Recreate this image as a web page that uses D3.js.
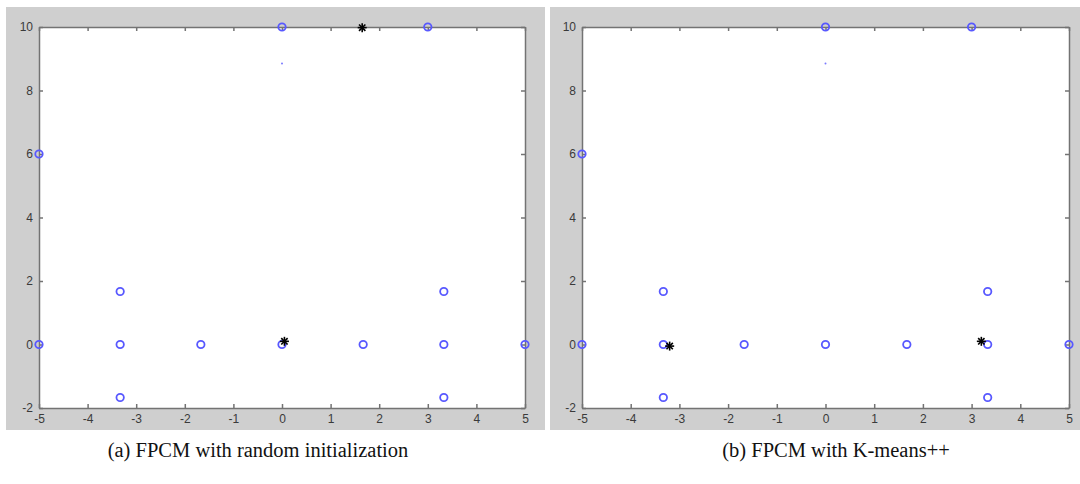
<!DOCTYPE html>
<html>
<head>
<meta charset="utf-8">
<script src="https://cdn.jsdelivr.net/npm/d3@7"></script>
<style>
  body { margin: 0; background: #fff; }
  svg { display: block; }
  .tick text { font-family: "Liberation Sans", Arial, sans-serif; font-size: 12px; fill: #3a3a3a; }
  .caption { font-family: "Liberation Serif", "Times New Roman", serif; font-size: 20.5px; fill: #111; }
</style>
</head>
<body>
<div id="chart"></div>
<script>
// data points (same in both runs)
var pointX = [-5, -5, -3.33, -3.33, -3.33, -1.67, 0, 1.67, 3.33, 3.33, 3.33, 5, 0, 3];
var pointY = [0, 6, 1.67, 0, -1.67, 0, 0, 0, 1.67, 0, -1.67, 0, 10, 10];
// small dot marker
var dotX = [0];
var dotY = [8.85];
// cluster centres found by each method
var centerAX = [1.65, 0.05];
var centerAY = [9.98, 0.1];
var centerBX = [-3.2, 3.2];
var centerBY = [-0.05, 0.1];
var xTicks = [-5, -4, -3, -2, -1, 0, 1, 2, 3, 4, 5];
var yTicks = [-2, 0, 2, 4, 6, 8, 10];
var captions = ["(a) FPCM with random initialization", "(b) FPCM with K-means++"];

var width = 1080, height = 484;

var svg = d3.select('#chart')
  .append('svg')
  .attr('width', width)
  .attr('height', height);

var panels = [
  { gx: 6, gw: 539, left: 39, right: 525, cx: centerAX, cy: centerAY, cap: captions[0], capX: 258 },
  { gx: 550, gw: 530, left: 582, right: 1069, cx: centerBX, cy: centerBY, cap: captions[1], capX: 836 }
];

var plotTop = 27, plotBottom = 408;

panels.forEach(function(p) {
  var g = svg.append('g');

  // gray figure background
  g.append('rect')
    .attr('x', p.gx).attr('y', 7)
    .attr('width', p.gw).attr('height', 423)
    .attr('fill', '#cfcfcf');

  g.append('rect')
    .attr('x', p.left).attr('y', plotTop)
    .attr('width', p.right - p.left).attr('height', plotBottom - plotTop)
    .attr('fill', '#fff');

  var x = d3.scaleLinear().domain([-5, 5]).range([p.left, p.right]);
  var y = d3.scaleLinear().domain([-2, 10]).range([plotBottom, plotTop]);

  var fmt = function(d) { return String(d); };

  var axes = [
    { ax: d3.axisBottom(x).tickValues(xTicks).tickFormat(fmt), t: 'translate(0,' + plotBottom + ')' },
    { ax: d3.axisLeft(y).tickValues(yTicks).tickFormat(fmt), t: 'translate(' + p.left + ',0)' },
    { ax: d3.axisTop(x).tickValues(xTicks).tickFormat(''), t: 'translate(0,' + plotTop + ')' },
    { ax: d3.axisRight(y).tickValues(yTicks).tickFormat(''), t: 'translate(' + p.right + ',0)' }
  ];

  axes.forEach(function(a) {
    var ag = g.append('g')
      .attr('transform', a.t)
      .call(a.ax.tickSizeInner(-4).tickSizeOuter(0).tickPadding(6));
    ag.selectAll('path, line').attr('stroke', '#737373').attr('stroke-width', 1.5);
  });

  // data circles
  g.selectAll('circle.pt')
    .data(d3.range(pointX.length))
    .enter()
    .append('circle')
    .attr('class', 'pt')
    .attr('cx', function(i) { return x(pointX[i]); })
    .attr('cy', function(i) { return y(pointY[i]); })
    .attr('r', 3.7)
    .attr('fill', 'none')
    .attr('stroke', '#5858ff')
    .attr('stroke-width', 1.8);

  g.selectAll('circle.dot')
    .data(d3.range(dotX.length))
    .enter()
    .append('circle')
    .attr('class', 'dot')
    .attr('cx', function(i) { return x(dotX[i]); })
    .attr('cy', function(i) { return y(dotY[i]); })
    .attr('r', 1)
    .attr('fill', '#7a7aff');

  // centre stars
  var star = g.selectAll('g.star')
    .data(d3.range(p.cx.length))
    .enter()
    .append('g')
    .attr('class', 'star')
    .attr('transform', function(i) { return 'translate(' + x(p.cx[i]) + ',' + y(p.cy[i]) + ')'; });

  [0, 45, 90, 135].forEach(function(a) {
    star.append('line')
      .attr('x1', -4.5).attr('x2', 4.5)
      .attr('y1', 0).attr('y2', 0)
      .attr('transform', 'rotate(' + a + ')')
      .attr('stroke', '#000')
      .attr('stroke-width', 1.6);
  });

  svg.append('text')
    .attr('class', 'caption')
    .attr('x', p.capX)
    .attr('y', 457)
    .attr('text-anchor', 'middle')
    .text(p.cap);
});
</script>
</body>
</html>
